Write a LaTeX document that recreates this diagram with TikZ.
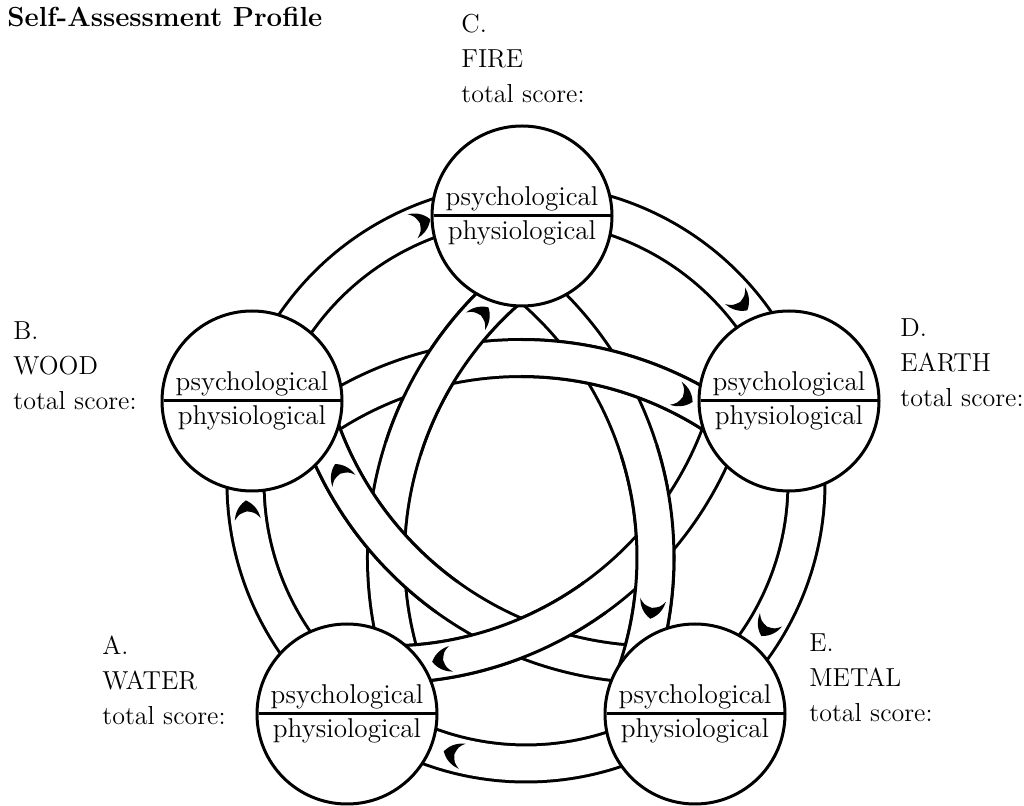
\documentclass[tikz,border=0pt]{standalone}
\usepackage{tikz}
\usetikzlibrary{shapes,calc}
\pgfdeclarelayer{back}
\pgfsetlayers{back,main}

\tikzset{
  band/.style={line width=1.5pt, double=white, double distance=17pt},
  rim/.style={line width=1.5pt},
  element/.style={circle split, draw, fill=white, line width=1.5pt, minimum size=90pt,
    inner sep=1.5pt, font=\fontsize{13.6}{16}\selectfont},
  tag/.style={align=left, inner sep=0pt, font=\fontsize{13}{17.5}\selectfont},
  chev/.pic={\fill (10,0) .. controls (5,9) and (-3,12) .. (-9,13)
    .. controls (-3,8) .. (-1,0) .. controls (-3,-8) .. (-9,-13)
    .. controls (-3,-12) and (5,-9) .. (10,0) -- cycle;}
}

% a piece of band laid over the others: #1 centre, #2 and #3 angles
\newcommand\overband[3]{%
  \fill[white] (#1) ++(#2:338) arc[start angle=#2, end angle=#3, radius=338]
    -- ($(#1)+(#3:374)$) arc[start angle=#3, end angle=#2, radius=374] -- cycle;
  \draw[rim] (#1) ++(#2:337.5) arc[start angle=#2, end angle=#3, radius=337.5];
  \draw[rim] (#1) ++(#2:374.5) arc[start angle=#2, end angle=#3, radius=374.5];
}

\begin{document}
\begin{tikzpicture}[x=0.5pt,y=0.5pt]
\useasboundingbox (0,0) rectangle (1024,-806);

\node[anchor=base west, inner sep=0pt, font=\fontsize{13.8}{16}\selectfont\bfseries] (title) at (7,-27) {Self-Assessment Profile};

% the five elements
\node[element] (C) at (522,-216) {psychological \nodepart{lower} physiological};
\node[element] (D) at (789,-401) {psychological \nodepart{lower} physiological};
\node[element] (E) at (695,-714) {psychological \nodepart{lower} physiological};
\node[element] (A) at (347,-714) {psychological \nodepart{lower} physiological};
\node[element] (B) at (252,-401) {psychological \nodepart{lower} physiological};

\node[tag, anchor=base west] (tC) at (461,-103) {C.\\FIRE\\total score:};
\node[tag, anchor=base west] (tD) at (900,-407) {D.\\EARTH\\total score:};
\node[tag, anchor=base west] (tE) at (809,-722) {E.\\METAL\\total score:};
\node[tag, anchor=base west] (tA) at (102,-725) {A.\\WATER\\total score:};
\node[tag, anchor=base west] (tB) at (13,-410) {B.\\WOOD\\total score:};

\coordinate (ctr) at (526,-483);
\coordinate (mDE) at ($(D)!0.5!(E)$);
\coordinate (mAB) at ($(A)!0.5!(B)$);
\coordinate (mAE) at ($(A)!0.5!(E)$);
\coordinate (mBC) at ($(B)!0.5!(C)$);
\coordinate (mCD) at ($(C)!0.5!(D)$);

\begin{pgfonlayer}{back}
% outer cycle
\foreach \a/\b in {163.3/90.9, 90.9/17.3, 17.3/-53.8, -53.8/-127.8, -127.8/-196.7}
  \draw[band] (ctr) ++(\a:280.5) arc[start angle=\a, end angle=\b, radius=280.5];

% inner star, whole bands
\draw[band] (mDE) ++(201.6:356) arc[start angle=201.6, end angle=122.8, radius=356]; % A to C
\draw[band] (mAB) ++(56.9:356) arc[start angle=56.9, end angle=-21.6, radius=356];   % C to E
\draw[band] (mAE) ++(130.7:356) arc[start angle=130.7, end angle=49.4, radius=356];  % B to D
\draw[band] (mBC) ++(-13:356) arc[start angle=-13, end angle=-95.6, radius=356];     % D to A
\draw[band] (mCD) ++(-84.4:356) arc[start angle=-84.4, end angle=-167.1, radius=356]; % E to B

% second halves go over
\overband{mDE}{162.2}{122.8}
\overband{mAB}{17.6}{-21.6}
\overband{mAE}{90}{49.4}
\overband{mBC}{-54.3}{-95.6}
\overband{mCD}{-125.8}{-167.1}

% arrows
\foreach \t in {112,40,-31,-105,185.6}
  \path (ctr) ++(\t:280.5) pic[rotate=\t-90] {chev};
\path (mDE) ++(137:356) pic[rotate=47] {chev};
\path (mAB) ++(-8.3:356) pic[rotate=-98.3] {chev};
\path (mAE) ++(62.8:356) pic[rotate=-27.2] {chev};
\path (mBC) ++(-81.1:356) pic[rotate=-171.1] {chev};
\path (mCD) ++(-152.5:356) pic[rotate=117.5] {chev};
\end{pgfonlayer}
\end{tikzpicture}
\end{document}
